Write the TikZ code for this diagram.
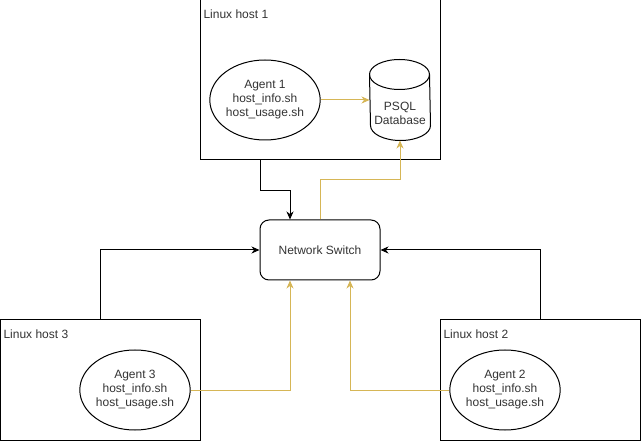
\documentclass[tikz,border=0pt]{standalone}
\usepackage{fontspec}
\setmainfont{Liberation Sans}
\usetikzlibrary{shapes.geometric,arrows.meta,calc}
\definecolor{gold}{HTML}{D6B656}
\begin{document}
\begin{tikzpicture}[x=1pt,y=-1pt,line width=1pt,
  every node/.style={font=\fontsize{12}{14}\selectfont, text=black!80},
  hostbox/.style={draw, rectangle, inner sep=0pt},
  agent/.style={draw, ellipse, minimum width=110pt, minimum height=80pt, inner sep=0pt, align=center},
  swbox/.style={draw, rectangle, rounded corners=9pt, minimum width=120pt, minimum height=60pt, inner sep=0pt},
  lbl/.style={anchor=north west, inner sep=0pt},
  tip/.style={-{Stealth[length=8pt,width=7pt,inset=2.5pt]}},
  blk/.style={draw=black, tip},
  gld/.style={draw=gold, tip}]
\useasboundingbox (0,0) rectangle (641,441);
% hosts
\node[hostbox, minimum width=240pt, minimum height=160pt] (h1) at (320,80) {};
\node[hostbox, minimum width=200pt, minimum height=120pt] (h3) at (100,380) {};
\node[hostbox, minimum width=200pt, minimum height=120pt] (h2) at (540,380) {};
\node[lbl] (l1) at (203,9) {Linux host 1};
\node[lbl] (l3) at (3,329) {Linux host 3};
\node[lbl] (l2) at (443,329) {Linux host 2};
% agents
\node[agent] (a1) at (265,100) {Agent 1\\host\_info.sh\\host\_usage.sh};
\node[agent] (a3) at (135,390) {Agent 3\\host\_info.sh\\host\_usage.sh};
\node[agent] (a2) at (505,390) {Agent 2\\host\_info.sh\\host\_usage.sh};
% database
\node[minimum width=60pt, minimum height=80pt, inner sep=0pt] (db) at (400,100) {};
\draw ($(db.north west)+(0,15)$) arc[x radius=30pt, y radius=15pt, start angle=180, end angle=0]
      -- ($(db.south east)+(0,-15)$) arc[x radius=30pt, y radius=15pt, start angle=0, end angle=-180] -- cycle;
\draw ($(db.north west)+(0,15)$) arc[x radius=30pt, y radius=15pt, start angle=180, end angle=360];
\node[align=center, inner sep=0pt] (dbt) at (400,113) {PSQL\\Database};
% switch
\node[swbox] (sw) at (320,250) {Network Switch};
% connectors
\draw[gld] (a1.east) -- (db.west);
\draw[blk] ([xshift=-60pt]h1.south) -- ++(0,30) -| ([xshift=-30pt]sw.north);
\draw[gld] (sw.north) -- ++(0,-40) -| (db.south);
\draw[blk] (h3.north) |- (sw.west);
\draw[blk] (h2.north) |- (sw.east);
\draw[gld] (a3.east) -| ([xshift=-30pt]sw.south);
\draw[gld] (a2.west) -| ([xshift=30pt]sw.south);
\end{tikzpicture}
\end{document}
